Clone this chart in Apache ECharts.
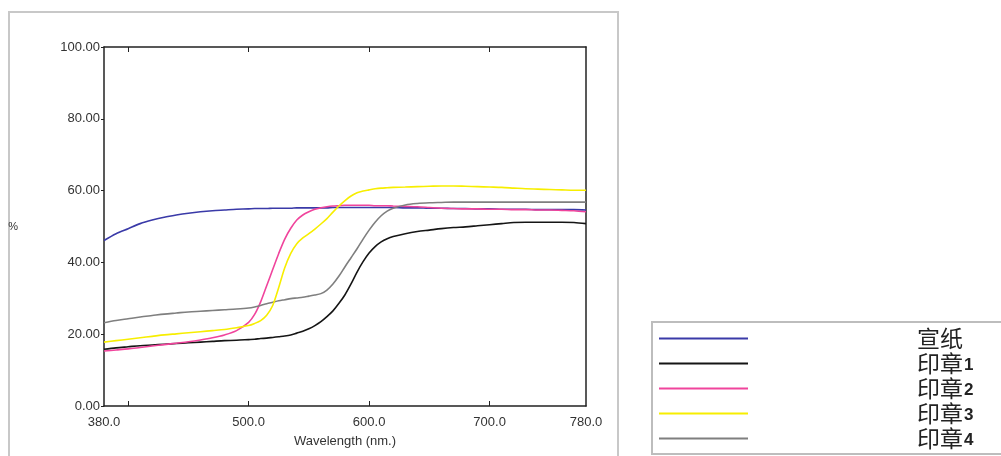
<!DOCTYPE html>
<html>
<head>
<meta charset="utf-8">
<script src="https://cdn.jsdelivr.net/npm/echarts@6/dist/echarts.min.js"></script>
<style>
html,body{margin:0;padding:0;background:#fff;}
#chart{width:1001px;height:456px;}
</style>
</head>
<body>
<div id="chart"></div>
<script>
// ---- data ----
var wavelengths = [380,390,400,410,420,430,440,450,460,470,480,490,500,
  505,510,515,520,525,530,535,540,545,550,555,560,565,570,575,580,585,590,595,600,605,610,615,620,
  630,640,650,660,670,680,690,700,710,720,730,740,750,760,770,780];

var seriesNames = ['宣纸','印章1','印章2','印章3','印章4'];

var paper = [46.1,48.0,49.4,50.8,51.8,52.6,53.2,53.7,54.1,54.4,54.6,54.8,54.9,
  55.0,55.0,55.0,55.1,55.1,55.1,55.1,55.2,55.2,55.2,55.2,55.2,55.2,55.3,55.3,55.3,55.3,55.3,55.3,55.3,55.3,55.3,55.3,55.3,
  55.2,55.2,55.1,55.1,55.0,55.0,54.9,54.9,54.8,54.8,54.8,54.7,54.7,54.7,54.7,54.6];

var seal1 = [15.8,16.2,16.5,16.8,17.0,17.2,17.4,17.6,17.8,18.0,18.2,18.3,18.5,
  18.6,18.8,18.9,19.1,19.3,19.5,19.8,20.3,20.8,21.5,22.4,23.5,24.9,26.5,28.6,31.0,34.0,37.3,40.2,42.6,44.4,45.7,46.6,47.2,
  48.0,48.6,49.0,49.4,49.7,49.9,50.2,50.5,50.8,51.1,51.2,51.2,51.2,51.2,51.1,50.8];

var seal2 = [15.3,15.6,15.9,16.3,16.7,17.1,17.5,17.9,18.4,19.0,19.8,21.0,23.3,
  25.5,29.0,33.5,38.0,42.5,46.5,49.5,51.8,53.2,54.1,54.8,55.2,55.5,55.7,55.8,55.9,55.9,55.9,55.9,55.9,55.8,55.8,55.8,55.7,
  55.6,55.5,55.3,55.1,55.0,54.9,54.9,54.8,54.8,54.7,54.7,54.6,54.6,54.5,54.4,54.1];

var seal3 = [17.8,18.2,18.6,19.0,19.4,19.8,20.1,20.4,20.7,21.0,21.3,21.8,22.4,
  23.0,23.8,25.3,28.0,33.0,38.5,42.5,45.2,46.8,48.0,49.3,50.7,52.2,54.0,55.7,57.2,58.5,59.4,59.9,60.2,60.5,60.7,60.8,60.9,
  61.0,61.1,61.2,61.3,61.3,61.2,61.1,61.0,60.9,60.7,60.5,60.4,60.3,60.2,60.1,60.1];

var seal4 = [23.2,23.8,24.3,24.8,25.2,25.6,25.9,26.2,26.4,26.6,26.8,27.0,27.3,
  27.6,28.0,28.5,28.9,29.3,29.6,29.9,30.1,30.3,30.6,30.9,31.3,32.3,34.0,36.2,38.8,41.3,43.8,46.5,49.0,51.2,53.0,54.3,55.1,
  56.0,56.4,56.6,56.7,56.8,56.8,56.8,56.8,56.8,56.8,56.8,56.8,56.8,56.8,56.8,56.8];

var xLabelValues = [380,500,600,700,780];
var xTickValues = [400,500,600,700];

// ---- chart ----
var colors = ['#3a3aa8','#151515','#f0449c','#f7ee00','#7f7f7f'];
var valueSets = [paper, seal1, seal2, seal3, seal4];

function pairs(vals){
  return wavelengths.map(function(w,i){ return [w, vals[i]]; });
}

var axisFont = {fontFamily:'Liberation Sans, Arial, sans-serif', fontSize:13, color:'#333'};

var chart = echarts.init(document.getElementById('chart'), null, {renderer:'canvas'});
chart.setOption({
  animation:false,
  backgroundColor:'#ffffff',
  color: colors,
  graphic:[{
    type:'rect', z:-10, silent:true,
    shape:{x:9, y:12, width:609, height:470},
    style:{fill:'#ffffff', stroke:'#c8c8c8', lineWidth:2}
  }],
  grid:{left:104, right:415, top:47, bottom:50, containLabel:false},
  legend:{
    orient:'vertical',
    left:652, top:322,
    padding:[5,40,4,7],
    itemGap:2,
    itemWidth:89, itemHeight:2,
    icon:'rect',
    borderColor:'#bdbdbd', borderWidth:2,
    backgroundColor:'#ffffff',
    data: seriesNames,
    formatter:function(name){
      var m = name.match(/^(\D+)(\d*)$/);
      var s = '{pad| }{cjk|' + m[1] + '}';
      if (m[2]) s += '{num|' + m[2] + '}';
      return s;
    },
    textStyle:{
      color:'#222',
      rich:{
        pad:{width:164, lineHeight:22, fontSize:12},
        cjk:{fontFamily:'Noto Sans CJK SC', fontSize:23, lineHeight:22, color:'#222'},
        num:{fontFamily:'Liberation Sans, Arial, sans-serif', fontSize:17, fontWeight:'bold', lineHeight:22, color:'#222', padding:[4,0,0,1]}
      }
    }
  },
  xAxis:[{
    type:'value', min:380, max:780, position:'bottom',
    name:'Wavelength (nm.)', nameLocation:'middle', nameGap:29,
    nameTextStyle: axisFont,
    axisLine:{show:true, onZero:false, lineStyle:{color:'#222', width:1.5}},
    axisTick:{show:true, inside:true, length:5, customValues: xTickValues, lineStyle:{color:'#222'}},
    axisLabel:Object.assign({margin:10, customValues: xLabelValues, formatter:function(v){return v.toFixed(1);}}, axisFont),
    splitLine:{show:false}
  },{
    type:'value', min:380, max:780, position:'top',
    axisLine:{show:true, onZero:false, lineStyle:{color:'#222', width:1.5}},
    axisTick:{show:true, inside:true, length:5, customValues: xTickValues, lineStyle:{color:'#222'}},
    axisLabel:{show:false},
    splitLine:{show:false}
  }],
  yAxis:[{
    type:'value', min:0, max:100, interval:20, position:'left',
    name:'%', nameLocation:'middle', nameRotate:0, nameGap:86,
    nameTextStyle:{fontFamily:'Liberation Sans, Arial, sans-serif', fontSize:11, color:'#333'},
    axisLine:{show:true, lineStyle:{color:'#222', width:1.5}},
    axisTick:{show:true, inside:false, length:3, lineStyle:{color:'#222'}},
    axisLabel:Object.assign({margin:4, formatter:function(v){return v.toFixed(2);}}, axisFont),
    splitLine:{show:false}
  },{
    type:'value', min:0, max:100, interval:20, position:'right',
    axisLine:{show:true, lineStyle:{color:'#222', width:1.5}},
    axisTick:{show:false},
    axisLabel:{show:false},
    splitLine:{show:false}
  }],
  series: seriesNames.map(function(n,i){
    return {
      name:n, type:'line', xAxisIndex:0, yAxisIndex:0,
      data:pairs(valueSets[i]),
      smooth:0.3, showSymbol:false, symbol:'none',
      lineStyle:{width:1.6, color:colors[i]},
      itemStyle:{color:colors[i]},
      z: i===3 ? 3 : 2
    };
  })
});
</script>
</body>
</html>
